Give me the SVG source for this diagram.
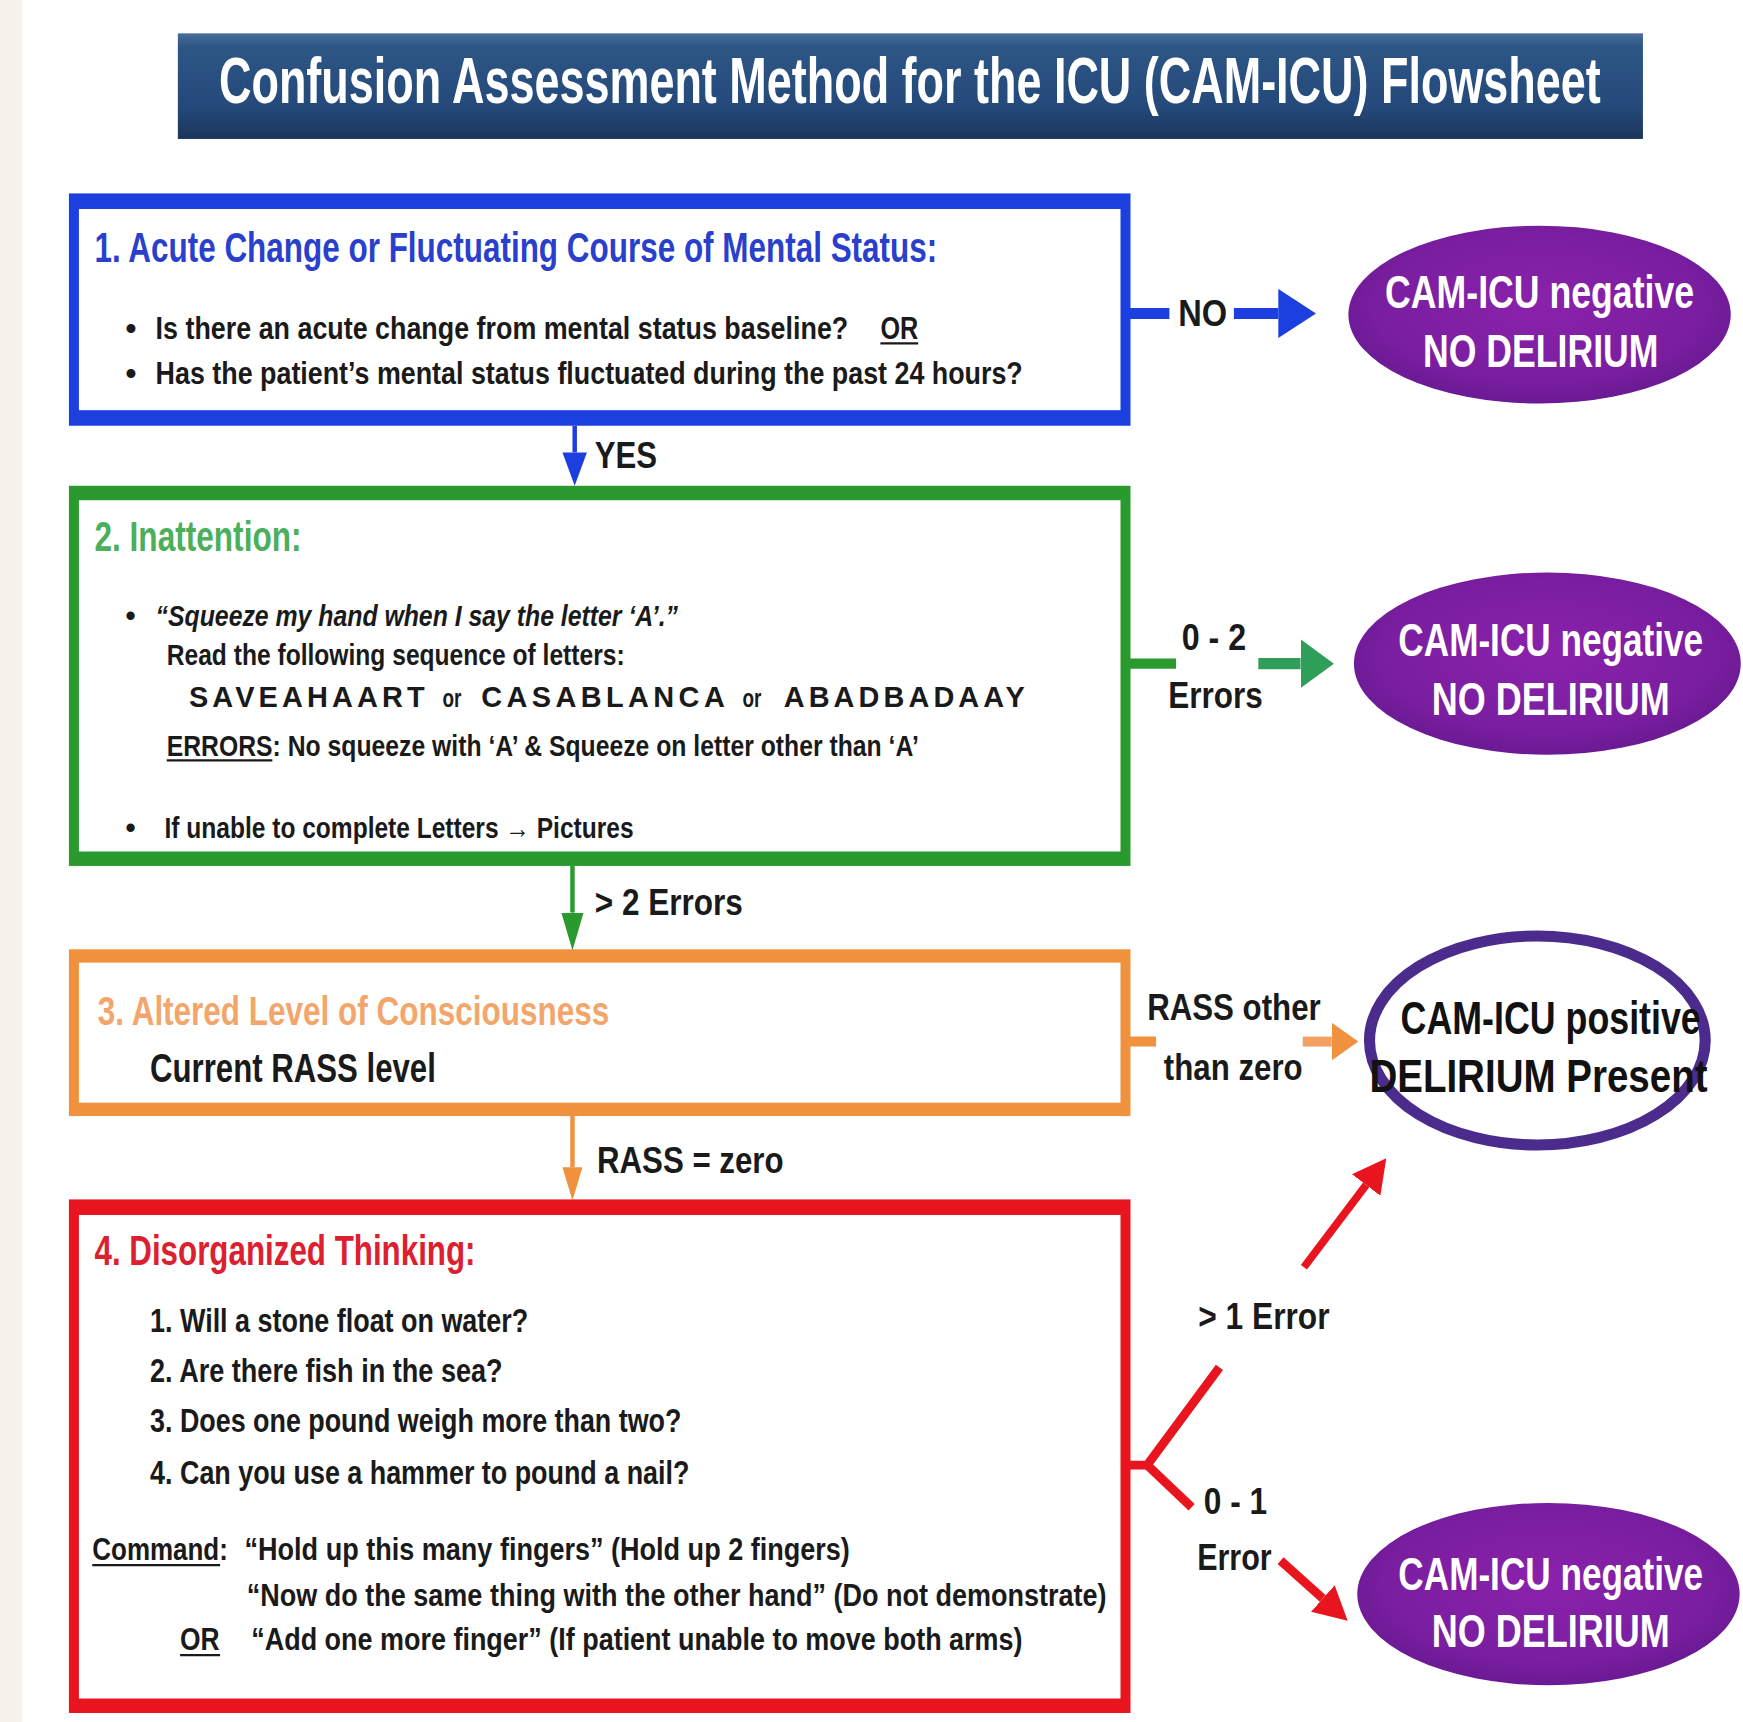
<svg xmlns="http://www.w3.org/2000/svg" width="1743" height="1722" viewBox="0 0 1743 1722">
<defs>
<linearGradient id="banner" x1="0" y1="0" x2="0" y2="1">
<stop offset="0" stop-color="#4a6f99"/>
<stop offset="0.12" stop-color="#2d5685"/>
<stop offset="0.7" stop-color="#24497a"/>
<stop offset="1" stop-color="#1a355a"/>
</linearGradient>
<radialGradient id="purple" cx="0.5" cy="0.45" r="0.6">
<stop offset="0" stop-color="#8a22ab"/>
<stop offset="0.7" stop-color="#7a1ea0"/>
<stop offset="1" stop-color="#641890"/>
</radialGradient>
<marker id="ahBlue" markerUnits="userSpaceOnUse" markerWidth="34" markerHeight="44" refX="0" refY="22" orient="auto" viewBox="0 0 34 44"><path d="M0,0 L34,22 L0,44 z" fill="#1c3fe0"/></marker>
<marker id="ahBlueS" markerUnits="userSpaceOnUse" markerWidth="30" markerHeight="22" refX="0" refY="11" orient="auto" viewBox="0 0 30 22"><path d="M0,0 L30,11 L0,22 z" fill="#1c3fe0"/></marker>
<marker id="ahGreen" markerUnits="userSpaceOnUse" markerWidth="30" markerHeight="44" refX="0" refY="22" orient="auto" viewBox="0 0 30 44"><path d="M0,0 L30,22 L0,44 z" fill="#2e9e58"/></marker>
<marker id="ahGreenS" markerUnits="userSpaceOnUse" markerWidth="34" markerHeight="20" refX="0" refY="10" orient="auto" viewBox="0 0 34 20"><path d="M0,0 L34,10 L0,20 z" fill="#2a9a2e"/></marker>
<marker id="ahOrange" markerUnits="userSpaceOnUse" markerWidth="24" markerHeight="34" refX="0" refY="17" orient="auto" viewBox="0 0 24 34"><path d="M0,0 L24,17 L0,34 z" fill="#f0913e"/></marker>
<marker id="ahOrangeS" markerUnits="userSpaceOnUse" markerWidth="30" markerHeight="18" refX="0" refY="9" orient="auto" viewBox="0 0 30 18"><path d="M0,0 L30,9 L0,18 z" fill="#f0913e"/></marker>
<marker id="ahRed" markerUnits="userSpaceOnUse" markerWidth="30" markerHeight="32" refX="0" refY="16" orient="auto" viewBox="0 0 30 32"><path d="M0,0 L30,16 L0,32 z" fill="#e8141e"/></marker>
</defs>
<style>
text{font-family:"Liberation Sans",Arial,sans-serif;font-weight:bold;}
.title{fill:#ffffff;font-size:58px;}
.body{fill:#1a1a1a;}
.lbl{fill:#1a1a1a;font-size:34px;}
.neg{fill:#ffffff;font-size:41px;text-anchor:middle;}
.pos{fill:#111111;font-size:41px;text-anchor:middle;}
.it{font-style:italic;}
.ln{fill:none;}
.ul{stroke:#1a1a1a;stroke-width:2;}
</style>
<rect x="0" y="0" width="1743" height="1722" fill="#ffffff"/>
<g transform="scale(1.1116)">
<rect x="0" y="0" width="20" height="1549" fill="#f6f2ea"/>

<g id="title">
<rect x="160" y="30" width="1318" height="95" fill="url(#banner)"/>
<text class="title" transform="translate(197,93) scale(0.696,1)" textLength="1786" lengthAdjust="spacingAndGlyphs">Confusion Assessment Method for the ICU (CAM-ICU) Flowsheet</text>
</g>

<g id="node1">
<rect x="62" y="174" width="955" height="209" fill="#1c3fe0"/>
<rect x="71" y="188" width="937" height="181" fill="#ffffff"/>
<text transform="translate(85,236) scale(0.744,1)" font-size="38" fill="#2a3fcc" textLength="1019" lengthAdjust="spacingAndGlyphs">1. Acute Change or Fluctuating Course of Mental Status:</text>
<text class="body" x="113" y="305" font-size="28">•</text>
<text class="body" transform="translate(140,305) scale(0.863,1)" font-size="28" textLength="722" lengthAdjust="spacingAndGlyphs">Is there an acute change from mental status baseline?</text>
<text class="body" transform="translate(792,305) scale(0.81,1)" font-size="28" textLength="42" lengthAdjust="spacingAndGlyphs">OR</text>
<line class="ul" x1="792" y1="309" x2="826" y2="309"/>
<text class="body" x="113" y="345" font-size="28">•</text>
<text class="body" transform="translate(140,345) scale(0.861,1)" font-size="28" textLength="906" lengthAdjust="spacingAndGlyphs">Has the patient’s mental status fluctuated during the past 24 hours?</text>
</g>

<g id="node2">
<rect x="62" y="437" width="955" height="342" fill="#2a9a2e"/>
<rect x="71" y="450" width="937" height="316" fill="#ffffff"/>
<text transform="translate(85,496) scale(0.748,1)" font-size="38" fill="#4caf5c" textLength="249" lengthAdjust="spacingAndGlyphs">2. Inattention:</text>
<text class="body" x="113" y="563" font-size="26">•</text>
<text class="body it" transform="translate(140,563) scale(0.856,1)" font-size="26" textLength="549" lengthAdjust="spacingAndGlyphs">“Squeeze my hand when I say the letter ‘A’.”</text>
<text class="body" transform="translate(150,598) scale(0.851,1)" font-size="26" textLength="484" lengthAdjust="spacingAndGlyphs">Read the following sequence of letters:</text>
<text class="body" x="170" y="636" font-size="26" textLength="212" lengthAdjust="spacing">SAVEAHAART</text>
<text class="body" x="398" y="636" font-size="24" font-weight="normal" textLength="17" lengthAdjust="spacingAndGlyphs">or</text>
<text class="body" x="433" y="636" font-size="26" textLength="219" lengthAdjust="spacing">CASABLANCA</text>
<text class="body" x="668" y="636" font-size="24" font-weight="normal" textLength="17" lengthAdjust="spacingAndGlyphs">or</text>
<text class="body" x="705" y="636" font-size="26" textLength="217" lengthAdjust="spacing">ABADBADAAY</text>
<text class="body" transform="translate(150,680) scale(0.851,1)" font-size="26" textLength="795" lengthAdjust="spacingAndGlyphs">ERRORS: No squeeze with ‘A’ &amp; Squeeze on letter other than ‘A’</text>
<line class="ul" x1="150" y1="684" x2="245" y2="684"/>
<text class="body" x="113" y="754" font-size="26">•</text>
<text class="body" transform="translate(148,754) scale(0.849,1)" font-size="26" textLength="497" lengthAdjust="spacingAndGlyphs">If unable to complete Letters → Pictures</text>
</g>

<g id="node3">
<rect x="62" y="854" width="955" height="150" fill="#f0913e"/>
<rect x="71" y="866" width="937" height="126" fill="#ffffff"/>
<text transform="translate(88,922) scale(0.785,1)" font-size="36" fill="#f3a66c" textLength="586" lengthAdjust="spacingAndGlyphs">3. Altered Level of Consciousness</text>
<text class="body" transform="translate(135,973) scale(0.779,1)" font-size="36" textLength="330" lengthAdjust="spacingAndGlyphs">Current RASS level</text>
</g>

<g id="node4">
<rect x="62" y="1079" width="955" height="462" fill="#e8141e"/>
<rect x="71" y="1093" width="937" height="435" fill="#ffffff"/>
<text transform="translate(85,1138) scale(0.742,1)" font-size="38" fill="#dc2030" textLength="462" lengthAdjust="spacingAndGlyphs">4. Disorganized Thinking:</text>
<text class="body" transform="translate(135,1198) scale(0.806,1)" font-size="30" textLength="422" lengthAdjust="spacingAndGlyphs">1. Will a stone float on water?</text>
<text class="body" transform="translate(135,1243) scale(0.809,1)" font-size="30" textLength="392" lengthAdjust="spacingAndGlyphs">2. Are there fish in the sea?</text>
<text class="body" transform="translate(135,1288) scale(0.806,1)" font-size="30" textLength="593" lengthAdjust="spacingAndGlyphs">3. Does one pound weigh more than two?</text>
<text class="body" transform="translate(135,1335) scale(0.806,1)" font-size="30" textLength="602" lengthAdjust="spacingAndGlyphs">4. Can you use a hammer to pound a nail?</text>
<text class="body" transform="translate(83,1403) scale(0.808,1)" font-size="29" textLength="151" lengthAdjust="spacingAndGlyphs">Command:</text>
<line class="ul" x1="83" y1="1408" x2="198" y2="1408"/>
<text class="body" transform="translate(220,1403) scale(0.839,1)" font-size="29" textLength="649" lengthAdjust="spacingAndGlyphs">“Hold up this many fingers” (Hold up 2 fingers)</text>
<text class="body" transform="translate(222,1445) scale(0.838,1)" font-size="29" textLength="923" lengthAdjust="spacingAndGlyphs">“Now do the same thing with the other hand” (Do not demonstrate)</text>
<text class="body" transform="translate(162,1484) scale(0.828,1)" font-size="29" textLength="43" lengthAdjust="spacingAndGlyphs">OR</text>
<line class="ul" x1="162" y1="1489" x2="198" y2="1489"/>
<text class="body" transform="translate(226,1484) scale(0.836,1)" font-size="29" textLength="830" lengthAdjust="spacingAndGlyphs">“Add one more finger” (If patient unable to move both arms)</text>
</g>

<g id="out1">
<ellipse cx="1385" cy="283" rx="172" ry="80" fill="url(#purple)"/>
<text class="neg" transform="translate(1385,277) scale(0.783,1)" textLength="355" lengthAdjust="spacingAndGlyphs">CAM-ICU negative</text>
<text class="neg" transform="translate(1386,330) scale(0.782,1)" textLength="271" lengthAdjust="spacingAndGlyphs">NO DELIRIUM</text>
</g>

<g id="out2">
<ellipse cx="1392" cy="597" rx="174" ry="82" fill="url(#purple)"/>
<text class="neg" transform="translate(1395,590) scale(0.772,1)" textLength="355" lengthAdjust="spacingAndGlyphs">CAM-ICU negative</text>
<text class="neg" transform="translate(1395,643) scale(0.79,1)" textLength="271" lengthAdjust="spacingAndGlyphs">NO DELIRIUM</text>
</g>

<g id="out3">
<ellipse cx="1383" cy="936" rx="151" ry="94" fill="#ffffff" stroke="#4b2c8c" stroke-width="10"/>
<text class="pos" transform="translate(1395,930) scale(0.785,1)" textLength="344" lengthAdjust="spacingAndGlyphs">CAM-ICU positive</text>
<text class="pos" transform="translate(1384,982) scale(0.845,1)" textLength="360" lengthAdjust="spacingAndGlyphs">DELIRIUM Present</text>
</g>

<g id="out4">
<ellipse cx="1393" cy="1434" rx="172" ry="82" fill="url(#purple)"/>
<text class="neg" transform="translate(1395,1430) scale(0.772,1)" textLength="355" lengthAdjust="spacingAndGlyphs">CAM-ICU negative</text>
<text class="neg" transform="translate(1395,1482) scale(0.79,1)" textLength="271" lengthAdjust="spacingAndGlyphs">NO DELIRIUM</text>
</g>

<g id="connectors">
<path class="ln" d="M1012,282 H1052" stroke="#1c3fe0" stroke-width="10"/>
<path class="ln" d="M1110,282 H1150" stroke="#1c3fe0" stroke-width="10" marker-end="url(#ahBlue)"/>
<text class="lbl" transform="translate(1060,293) scale(0.917,1)" font-size="32" textLength="48" lengthAdjust="spacingAndGlyphs">NO</text>

<path class="ln" d="M517,383 V407" stroke="#1c3fe0" stroke-width="4" marker-end="url(#ahBlueS)"/>
<text class="lbl" transform="translate(535,421) scale(0.824,1)" textLength="68" lengthAdjust="spacingAndGlyphs">YES</text>

<path class="ln" d="M1012,597 H1058" stroke="#2a9a2e" stroke-width="9"/>
<path class="ln" d="M1132,597 H1170" stroke="#2e9e58" stroke-width="10" marker-end="url(#ahGreen)"/>
<text class="lbl" transform="translate(1063,585) scale(0.853,1)" textLength="68" lengthAdjust="spacingAndGlyphs">0 - 2</text>
<text class="lbl" transform="translate(1051,637) scale(0.833,1)" textLength="102" lengthAdjust="spacingAndGlyphs">Errors</text>

<path class="ln" d="M515,779 V821" stroke="#2a9a2e" stroke-width="4" marker-end="url(#ahGreenS)"/>
<text class="lbl" transform="translate(535,823) scale(0.833,1)" textLength="160" lengthAdjust="spacingAndGlyphs">&gt; 2 Errors</text>

<path class="ln" d="M1012,937 H1040" stroke="#f0913e" stroke-width="9"/>
<path class="ln" d="M1172,937 H1198" stroke="#f3a060" stroke-width="9" marker-end="url(#ahOrange)"/>
<text class="lbl" transform="translate(1032,918) scale(0.826,1)" textLength="189" lengthAdjust="spacingAndGlyphs">RASS other</text>
<text class="lbl" transform="translate(1047,972) scale(0.827,1)" textLength="151" lengthAdjust="spacingAndGlyphs">than zero</text>

<path class="ln" d="M515,1004 V1050" stroke="#f0913e" stroke-width="4" marker-end="url(#ahOrangeS)"/>
<text class="lbl" transform="translate(537,1055) scale(0.827,1)" textLength="203" lengthAdjust="spacingAndGlyphs">RASS = zero</text>

<path class="ln" d="M1012,1318 H1032 L1097,1230" stroke="#e8141e" stroke-width="8" stroke-linejoin="miter"/>
<path class="ln" d="M1032,1318 L1072,1356" stroke="#e8141e" stroke-width="8"/>
<path class="ln" d="M1173,1140 L1229,1066" stroke="#e8141e" stroke-width="7" marker-end="url(#ahRed)"/>
<path class="ln" d="M1152,1404 L1190,1438" stroke="#e8141e" stroke-width="8" marker-end="url(#ahRed)"/>
<text class="lbl" transform="translate(1078,1196) scale(0.837,1)" textLength="141" lengthAdjust="spacingAndGlyphs">&gt; 1 Error</text>
<text class="lbl" transform="translate(1083,1362) scale(0.838,1)" textLength="68" lengthAdjust="spacingAndGlyphs">0 - 1</text>
<text class="lbl" transform="translate(1077,1412) scale(0.807,1)" textLength="83" lengthAdjust="spacingAndGlyphs">Error</text>
</g>
</g>
</svg>
